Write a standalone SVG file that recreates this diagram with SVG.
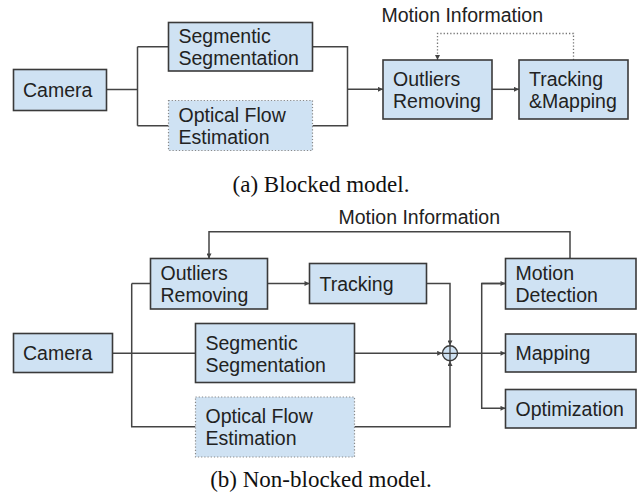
<svg xmlns="http://www.w3.org/2000/svg" width="643" height="501" viewBox="0 0 643 501">
  <defs>
    <style>
      .box { fill: #cfe2f3; stroke: #3a3a3a; stroke-width: 1.6; }
      .dot { fill: #cfe2f3; stroke: #888; stroke-width: 1.2; stroke-dasharray: 1.2 2; }
      .lbl { font-family: "Liberation Sans", Arial, sans-serif; font-size: 19.5px; fill: #222; }
      .cap { font-family: "Liberation Serif", "Times New Roman", serif; font-size: 23px; fill: #111; text-anchor: middle; }
      .wire { fill: none; stroke: #444; stroke-width: 1.5; }
      .wire-dot { fill: none; stroke: #777; stroke-width: 1.3; stroke-dasharray: 1.3 2; }
    </style>
    <marker id="arrow" viewBox="0 0 6 6" refX="6" refY="3" markerWidth="6" markerHeight="5" markerUnits="userSpaceOnUse" orient="auto">
      <path d="M0,0 L6,3 L0,6 z" fill="#444"/>
    </marker>
  </defs>

  <!-- (a) blocked pipeline -->
  <g id="connectors-a">
    <path class="wire" d="M106.5,89.5 H137.5 M137.5,46.7 V125.7 M137.5,46.7 H168.5 M137.5,125.7 H168.5"/>
    <path class="wire" d="M312.5,46.7 H347.5 V125.7 H312.5"/>
    <path class="wire" d="M347.5,89.3 H383" marker-end="url(#arrow)"/>
    <path class="wire" d="M492,89.3 H519" marker-end="url(#arrow)"/>
    <path class="wire-dot" d="M573.5,60 V33.5 H437.5 V60" marker-end="url(#arrow)"/>
  </g>
  <text class="lbl" x="381.5" y="22">Motion Information</text>

  <g id="a-camera">
    <rect class="box" x="13.5" y="69.5" width="93" height="41"/>
    <text class="lbl" x="23" y="97">Camera</text>
  </g>
  <g id="a-segmentation">
    <rect class="box" x="168.5" y="22.5" width="144" height="48.5"/>
    <text class="lbl" x="178.5" y="42.8">Segmentic</text>
    <text class="lbl" x="178.5" y="65.2">Segmentation</text>
  </g>
  <g id="a-optical-flow">
    <rect class="dot" x="168.5" y="100.5" width="144" height="50"/>
    <text class="lbl" x="178.5" y="121.5">Optical Flow</text>
    <text class="lbl" x="178.5" y="143.9">Estimation</text>
  </g>
  <g id="a-outliers">
    <rect class="box" x="383" y="60" width="109" height="59"/>
    <text class="lbl" x="393" y="85.5">Outliers</text>
    <text class="lbl" x="393" y="107.9">Removing</text>
  </g>
  <g id="a-tracking-mapping">
    <rect class="box" x="519" y="60" width="109" height="59"/>
    <text class="lbl" x="529" y="85.5">Tracking</text>
    <text class="lbl" x="529" y="107.9">&amp;Mapping</text>
  </g>
  <text class="cap" x="321" y="191.5">(a) Blocked model.</text>

  <!-- (b) non-blocked pipeline -->
  <g id="connectors-b">
    <path class="wire" d="M112.5,353.3 H195.5"/>
    <path class="wire" d="M131.7,283.5 V426.7 H195.5 M131.7,283.5 H150.5"/>
    <path class="wire" d="M267.5,283.5 H309.5" marker-end="url(#arrow)"/>
    <path class="wire" d="M426.5,283.5 H450 V345.5" marker-end="url(#arrow)"/>
    <path class="wire" d="M354.5,353.3 H442.2" marker-end="url(#arrow)"/>
    <path class="wire" d="M354.5,426.7 H450 V361" marker-end="url(#arrow)"/>
    <path class="wire" d="M457.7,353.3 H505.5" marker-end="url(#arrow)"/>
    <path class="wire" d="M505.5,283.5 H481.7 V408.3 H505.5" marker-end="url(#arrow)"/>
    <path class="wire" d="M481.7,283.5 H505.5" marker-end="url(#arrow)"/>
    <path class="wire" d="M570,258.5 V231.7 H209 V258.5" marker-end="url(#arrow)"/>
  </g>
  <text class="lbl" x="338.5" y="223.5">Motion Information</text>

  <g id="b-camera">
    <rect class="box" x="13.5" y="333.5" width="99" height="39"/>
    <text class="lbl" x="23" y="360.2">Camera</text>
  </g>
  <g id="b-outliers">
    <rect class="box" x="150.5" y="258.5" width="117" height="50.5"/>
    <text class="lbl" x="160.5" y="280">Outliers</text>
    <text class="lbl" x="160.5" y="302.4">Removing</text>
  </g>
  <g id="b-tracking">
    <rect class="box" x="309.5" y="263.5" width="117" height="40"/>
    <text class="lbl" x="319.5" y="290.5">Tracking</text>
  </g>
  <g id="b-segmentation">
    <rect class="box" x="195.5" y="323.5" width="159" height="59"/>
    <text class="lbl" x="205.5" y="349.8">Segmentic</text>
    <text class="lbl" x="205.5" y="372.2">Segmentation</text>
  </g>
  <g id="b-optical-flow">
    <rect class="dot" x="195.5" y="397" width="159" height="60"/>
    <text class="lbl" x="205.5" y="423">Optical Flow</text>
    <text class="lbl" x="205.5" y="445.4">Estimation</text>
  </g>
  <g id="b-merge">
    <circle cx="450" cy="353.3" r="7.5" fill="#cfe2f3" stroke="#3a3a3a" stroke-width="1.4"/>
    <path d="M442.5,353.3 H457.5 M450,345.8 V360.8" stroke="#3a3a3a" stroke-width="1.2"/>
  </g>
  <g id="b-motion-detection">
    <rect class="box" x="505.5" y="258.5" width="130.5" height="50.5"/>
    <text class="lbl" x="515.5" y="280">Motion</text>
    <text class="lbl" x="515.5" y="302.4">Detection</text>
  </g>
  <g id="b-mapping">
    <rect class="box" x="505.5" y="334" width="130.5" height="38"/>
    <text class="lbl" x="515.5" y="360">Mapping</text>
  </g>
  <g id="b-optimization">
    <rect class="box" x="505.5" y="389.5" width="130.5" height="38.5"/>
    <text class="lbl" x="515.5" y="415.7">Optimization</text>
  </g>
  <text class="cap" x="321" y="487">(b) Non-blocked model.</text>
</svg>
